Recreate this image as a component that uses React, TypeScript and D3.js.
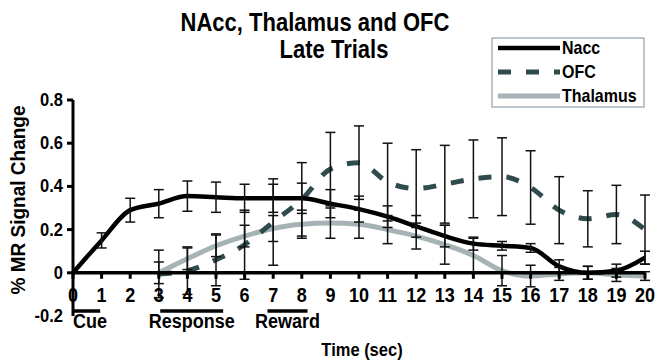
import React from 'react';
import * as d3 from 'd3';

// seconds 0..20
const time = d3.range(0, 21);

const nacc = [0, 0.15, 0.29, 0.32, 0.355, 0.35, 0.345, 0.345, 0.345, 0.32, 0.295, 0.26, 0.215, 0.17, 0.135, 0.125, 0.115, 0.03, 0.0, 0.01, 0.07];
const naccErr = [0, 0.035, 0.055, 0.065, 0.07, 0.07, 0.065, 0.065, 0.07, 0.065, 0.06, 0.05, 0.05, 0.05, 0.03, 0.02, 0.02, 0.03, 0.03, 0.03, 0.03];

const ofc = [null, null, null, -0.005, 0.01, 0.06, 0.13, 0.235, 0.34, 0.48, 0.51, 0.42, 0.39, 0.41, 0.435, 0.445, 0.395, 0.29, 0.25, 0.27, 0.2];
const ofcErr = [null, null, null, 0.11, 0.11, 0.12, 0.16, 0.2, 0.17, 0.17, 0.17, 0.18, 0.18, 0.18, 0.18, 0.18, 0.17, 0.155, 0.13, 0.135, 0.16];

const thalamus = [null, null, null, 0, 0.065, 0.125, 0.17, 0.205, 0.225, 0.23, 0.225, 0.2, 0.17, 0.13, 0.08, 0.01, -0.015, -0.005, 0, -0.01, -0.015];
const thalErr = [null, null, null, 0.05, 0.05, 0.05, 0.05, 0.06, 0.065, 0.07, 0.065, 0.065, 0.06, 0.09, 0.08, 0.07, 0.05, 0.03, 0.03, 0.03, 0.02];

const yTicks = [-0.2, 0, 0.2, 0.4, 0.6, 0.8];

// event periods under the axis
const events = [
  { label: 'Cue', start: 0, end: 0.95 },
  { label: 'Response', start: 3.05, end: 5.25 },
  { label: 'Reward', start: 6.8, end: 8.2 },
];

const series = [
  { name: 'Nacc', values: nacc, err: naccErr, color: '#000000', dash: null as string | null, width: 4.5 },
  { name: 'OFC', values: ofc, err: ofcErr, color: '#2f4b4d', dash: '13,15', width: 5 },
  { name: 'Thalamus', values: thalamus, err: thalErr, color: '#a6b3b5', dash: null, width: 5 },
];

const FONT = '"Liberation Sans", Arial, sans-serif';

// the figure's type is a tall bold grotesque, so stretch it a little vertically
function Txt(props: { x: number; y: number; size: number; anchor?: string; rotate?: number; sy?: number; children: React.ReactNode }) {
  const { x, y, size, anchor = 'start', rotate = 0, sy = 1.13 } = props;
  return (
    <text
      transform={`translate(${x},${y}) rotate(${rotate}) scale(1,${sy})`}
      textAnchor={anchor}
      fontSize={size}
    >
      {props.children}
    </text>
  );
}

export default function App() {
  const x = d3.scaleLinear().domain([0, 20]).range([73, 645]);
  const y = d3.scaleLinear().domain([-0.2, 0.8]).range([316, 100]);

  const line = d3
    .line<[number, number | null]>()
    .defined((d) => d[1] != null)
    .x((d) => x(d[0]))
    .y((d) => y(d[1] as number))
    .curve(d3.curveMonotoneX);

  // draw order: thalamus, ofc, nacc
  const drawOrder = [series[2], series[1], series[0]];

  return (
    <svg width={655} height={362} style={{ position: 'absolute', left: 0, top: 0, background: '#fff' }} fontFamily={FONT} fontWeight="bold">
      {/* title */}
      <Txt x={315} y={31} size={22} anchor="middle" sy={1.18}>NAcc, Thalamus and OFC</Txt>
      <Txt x={334} y={58} size={22} anchor="middle" sy={1.18}>Late Trials</Txt>

      {/* lines */}
      {drawOrder.map((s) => (
        <path
          key={s.name}
          d={line(time.map((t, i) => [t, s.values[i]]) as [number, number | null][]) || ''}
          fill="none"
          stroke={s.color}
          strokeWidth={s.width}
          strokeDasharray={s.dash || undefined}
        />
      ))}

      {/* error bars */}
      {series.map((s) =>
        time.map((t, i) => {
          const v = s.values[i];
          const e = s.err[i];
          if (v == null || e == null || e === 0) return null;
          const cx = x(t);
          return (
            <g key={s.name + i} stroke="#111" strokeWidth={1.5}>
              <line x1={cx} x2={cx} y1={y(v + e)} y2={y(v - e)} />
              <line x1={cx - 5} x2={cx + 5} y1={y(v + e)} y2={y(v + e)} />
              <line x1={cx - 5} x2={cx + 5} y1={y(v - e)} y2={y(v - e)} />
            </g>
          );
        })
      )}

      {/* y axis */}
      <line x1={x(0)} x2={x(0)} y1={y(0.8)} y2={y(-0.2)} stroke="#000" strokeWidth={3} />
      {yTicks.map((t) => (
        <g key={t}>
          {t >= 0 && <line x1={x(0) - 6} x2={x(0)} y1={y(t)} y2={y(t)} stroke="#000" strokeWidth={3} />}
          <Txt x={63} y={y(t) + 6} size={16.5} anchor="end">{t === 0 ? '0' : t.toFixed(1)}</Txt>
        </g>
      ))}

      {/* x axis at zero */}
      <line x1={x(0)} x2={x(20)} y1={y(0)} y2={y(0)} stroke="#000" strokeWidth={3.5} />
      {time.map((t) => (
        <g key={t}>
          <line x1={x(t)} x2={x(t)} y1={y(0)} y2={y(0) + 6} stroke="#000" strokeWidth={3} />
          <Txt x={x(t)} y={302} size={18} anchor="middle">{t}</Txt>
        </g>
      ))}

      {/* event bars */}
      {events.map((ev) => (
        <g key={ev.label}>
          <line x1={x(ev.start)} x2={x(ev.end)} y1={311} y2={311} stroke="#000" strokeWidth={3.5} />
          <Txt
            x={ev.label === 'Cue' ? x(0) : (x(ev.start) + x(ev.end)) / 2}
            y={328}
            size={18}
            anchor={ev.label === 'Cue' ? 'start' : 'middle'}
          >
            {ev.label}
          </Txt>
        </g>
      ))}

      {/* axis titles */}
      <Txt x={25} y={200} size={19} anchor="middle" rotate={-90} sy={1.1}>% MR Signal Change</Txt>
      <Txt x={362} y={356} size={16.5} anchor="middle">Time (sec)</Txt>

      {/* legend */}
      <rect x={492} y={38} width={152} height={69} fill="#fff" stroke="#8fa3b0" strokeWidth={1.2} />
      {series.map((s, i) => {
        const ly = 48 + i * 24;
        return (
          <g key={s.name}>
            <line x1={498} x2={560} y1={ly} y2={ly} stroke={s.color} strokeWidth={s.width} strokeDasharray={s.dash || undefined} />
            <Txt x={562} y={ly + 6} size={16}>{s.name}</Txt>
          </g>
        );
      })}
    </svg>
  );
}
